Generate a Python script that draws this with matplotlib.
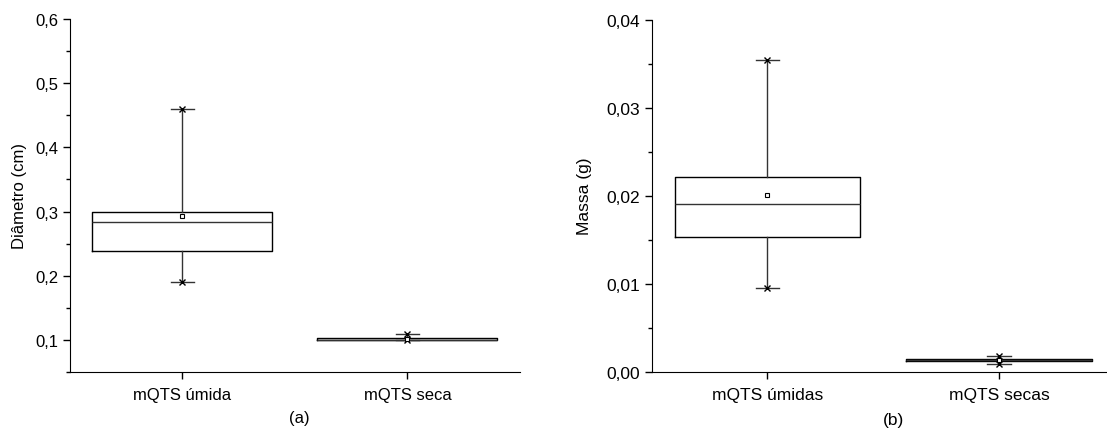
import numpy as np
import matplotlib.pyplot as plt
from matplotlib.ticker import FuncFormatter, AutoMinorLocator, MultipleLocator

plt.rcParams['font.family'] = ['Liberation Sans', 'DejaVu Sans']

# (a) diâmetro
cats_a = ['mQTS úmida', 'mQTS seca']
q1_a = [0.238, 0.1000]
med_a = [0.283, 0.1005]
q3_a = [0.300, 0.1025]
lo_a = [0.190, 0.1000]
hi_a = [0.460, 0.1095]
mean_a = [0.2925, 0.1015]

# (b) massa
cats_b = ['mQTS úmidas', 'mQTS secas']
q1_b = [0.01527, 0.00118]
med_b = [0.01906, 0.00128]
q3_b = [0.02209, 0.00141]
lo_b = [0.00948, 0.00091]
hi_b = [0.03542, 0.00175]
mean_b = [0.02008, 0.00130]


def caixa(ax, cats, q1, med, q3, lo, hi, mean, fs):
    pos = np.arange(1, len(cats) + 1)
    stats = []
    for i in range(len(cats)):
        stats.append(dict(label=cats[i], q1=q1[i], med=med[i], q3=q3[i],
                          whislo=lo[i], whishi=hi[i], mean=mean[i], fliers=[]))
    ax.bxp(stats, positions=pos, widths=0.8, showmeans=True, capwidths=0.1,
           boxprops=dict(color='black', lw=1.0),
           medianprops=dict(color='#333333', lw=1.0),
           whiskerprops=dict(color='#333333', lw=1.0),
           capprops=dict(color='#333333', lw=1.0),
           meanprops=dict(marker='s', markersize=3.5, markerfacecolor='white',
                          markeredgecolor='black', markeredgewidth=0.8))
    ax.plot(pos, lo, 'x', color='black', ms=4, mew=1.0)
    ax.plot(pos, hi, 'x', color='black', ms=4, mew=1.0)
    ax.set_xlim(0.5, 2.5)
    ax.spines['top'].set_visible(False)
    ax.spines['right'].set_visible(False)
    ax.yaxis.set_minor_locator(AutoMinorLocator(2))
    ax.tick_params(axis='both', which='major', direction='out', length=5,
                   width=1.0, labelsize=fs)
    ax.tick_params(axis='y', which='minor', direction='out', length=3, width=1.0)
    ax.tick_params(axis='x', pad=6)


fig = plt.figure(figsize=(11.07, 4.31), dpi=100)

ax1 = fig.add_axes([0.0632, 0.1346, 0.4065, 0.819])
caixa(ax1, cats_a, q1_a, med_a, q3_a, lo_a, hi_a, mean_a, 12)
ax1.set_ylim(0.05, 0.6)
ax1.yaxis.set_major_locator(MultipleLocator(0.1))
ax1.yaxis.set_major_formatter(FuncFormatter(lambda v, p: '{:.1f}'.format(v).replace('.', ',')))
ax1.set_ylabel('Diâmetro (cm)', fontsize=12, labelpad=6)
fig.text(0.270, 0.03, '(a)', fontsize=12, ha='center', va='center')

ax2 = fig.add_axes([0.5887, 0.1353, 0.4184, 0.8167])
caixa(ax2, cats_b, q1_b, med_b, q3_b, lo_b, hi_b, mean_b, 12.5)
ax2.set_ylim(0.0, 0.04)
ax2.yaxis.set_major_locator(MultipleLocator(0.01))
ax2.yaxis.set_major_formatter(FuncFormatter(lambda v, p: '{:.2f}'.format(v).replace('.', ',')))
ax2.set_ylabel('Massa (g)', fontsize=12.5, labelpad=10)
fig.text(0.807, 0.025, '(b)', fontsize=12.5, ha='center', va='center')

fig.savefig('out.png', dpi=100)
